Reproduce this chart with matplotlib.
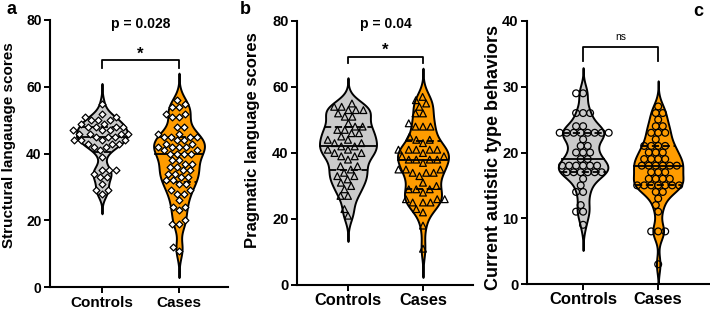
import numpy as np
import matplotlib
matplotlib.use("Agg")
import matplotlib.pyplot as plt

plt.rcParams['font.family'] = ['Liberation Sans', 'DejaVu Sans']

categories = ["Controls", "Cases"]

a_controls = [55, 52, 51, 51, 50, 50, 50, 49, 49, 48, 48, 48, 48, 47, 47, 47, 46, 46, 46, 46,
              45, 45, 45, 44, 44, 44, 44, 43, 43, 43, 42, 42, 41, 39, 35, 35, 35, 34, 33, 33,
              31, 29, 29, 28]
a_cases = [56, 55, 54, 54, 52, 52, 51, 51, 48, 48, 46, 46, 45, 45, 45, 45, 44, 44, 43, 43,
           42, 42, 42, 42, 41, 41, 40, 40, 40, 40, 38, 38, 37, 37, 36, 36, 35, 35, 34, 34,
           33, 33, 32, 32, 31, 31, 29, 29, 28, 28, 26, 24, 24, 23, 20, 19, 19, 12, 11]

b_controls = [55, 54, 54, 53, 53, 53, 52, 51, 51, 49, 48, 48, 47, 47, 46, 46, 45, 44, 44, 43,
              43, 42, 42, 41, 41, 40, 40, 39, 39, 38, 36, 36, 35, 34, 33, 33, 32, 31, 30, 29,
              27, 27, 23, 21]
b_cases = [57, 56, 55, 54, 52, 52, 49, 48, 48, 48, 45, 44, 44, 43, 41, 41, 41, 41, 41, 40,
           39, 39, 38, 38, 38, 38, 37, 35, 35, 35, 34, 34, 34, 33, 31, 30, 29, 29, 29, 28,
           26, 26, 26, 25, 25, 25, 23, 22, 18, 11]

c_controls = [29, 29, 26, 26, 26, 24, 24, 23, 23, 23, 23, 23, 23, 23, 23, 22, 21, 21, 20, 20,
              20, 19, 19, 18, 18, 18, 18, 18, 18, 17, 17, 17, 17, 17, 17, 16, 15, 14, 14, 12,
              11, 11, 9]
c_cases = [27, 26, 26, 25, 24, 24, 23, 23, 23, 22, 21, 21, 21, 21, 20, 20, 20, 19, 19, 19,
           19, 18, 18, 18, 18, 18, 18, 17, 17, 17, 16, 16, 16, 16, 15, 15, 15, 15, 15, 15,
           15, 14, 14, 13, 12, 11, 8, 8, 8, 3]

ylabels = ["Structural langauage scores", "Pragmatic language scores", "Current autistic type behaviors"]
sig_labels = ["*", "*", "ns"]
p_texts = ["p = 0.028", "p = 0.04", None]
panel_letters = ["a", "b", "c"]

GREY = "#cbcbcb"
ORANGE = "#ff9c00"

W, H = 710, 310
fig = plt.figure(figsize=(W / 100, H / 100), dpi=100)


def px_axes(l, r, bottom, top):
    return [l / W, (H - bottom) / H, (r - l) / W, (bottom - top) / H]


def swarm_offsets(vals, sx, sy, d):
    vals = np.asarray(vals, float)
    order = np.argsort(vals, kind="stable")
    placed = []
    offs = np.zeros(len(vals))
    for i in order:
        y = vals[i] * sy
        cands = [0.0]
        for (px, py) in placed:
            dy = abs(py - y)
            if dy < d:
                dx = np.sqrt(d * d - dy * dy)
                cands += [px + dx, px - dx]
        cands.sort(key=lambda c: (round(abs(c), 6), c))
        chosen = cands[-1]
        for c in cands:
            if all((c - px) ** 2 + (y - py) ** 2 >= d * d - 1e-6 for px, py in placed):
                chosen = c
                break
        placed.append((chosen, y))
        offs[i] = chosen / sx
    return offs


def violin(ax, x, vals, bw, half_w, color, marker, msize, mface, d):
    vals = np.asarray(vals, float)
    grid = np.linspace(vals.min() - 3 * bw, vals.max() + 3 * bw, 600)
    dens = np.exp(-0.5 * ((grid[:, None] - vals[None, :]) / bw) ** 2).sum(axis=1)
    half = dens / dens.max() * half_w
    ax.fill_betweenx(grid, x - half, x + half, facecolor=color, edgecolor="black",
                     lw=1.4, zorder=1)
    q1, med, q3 = np.percentile(vals, [25, 50, 75])
    for q, ls in [(q1, (0, (4, 2))), (med, "-"), (q3, (0, (4, 2)))]:
        w = np.interp(q, grid, half)
        ax.plot([x - w, x + w], [q, q], color="black", lw=1.3, ls=ls, zorder=2)
    p0 = ax.transData.transform((0, 0))
    p1 = ax.transData.transform((1, 1))
    sx, sy = p1[0] - p0[0], p1[1] - p0[1]
    offs = swarm_offsets(vals, sx, sy, d)
    ax.scatter(x + offs, vals, marker=marker, s=msize, facecolor=mface,
               edgecolor="black", linewidths=0.9, zorder=3)


panels = [
    dict(rect=px_axes(50, 228, 287.3, 20), xlim=(0.325, 2.636), ylim=(0, 80),
         yticks=[0, 20, 40, 60, 80], data=[a_controls, a_cases], bw=[2.0, 2.7],
         hw=[0.33, 0.33], marker="D", ms=12, mface="white", d=7.0,
         tick_fs=10, xt_fs=11, yl_fs=11, ylab_xy=(9, 145),
         bracket=(68, 65.5), sig_y=69.8, sig_fs=12, p_y=78.8, letter_xy=(12, 10)),
    dict(rect=px_axes(297, 473, 285, 21), xlim=(0.32, 2.667), ylim=(0, 80),
         yticks=[0, 20, 40, 60, 80], data=[b_controls, b_cases], bw=[2.6, 2.9],
         hw=[0.38, 0.34], marker="^", ms=24, mface="none", d=7.5,
         tick_fs=10.5, xt_fs=11.8, yl_fs=12, ylab_xy=(253, 140),
         bracket=(69, 67.3), sig_y=71.2, sig_fs=12, p_y=79, letter_xy=(245, 10)),
    dict(rect=px_axes(527, 710, 284, 21), xlim=(0.253, 2.69), ylim=(0, 40),
         yticks=[0, 10, 20, 30, 40], data=[c_controls, c_cases], bw=[1.3, 1.3],
         hw=[0.33, 0.33], marker="o", ms=24, mface="none", d=7.0,
         tick_fs=10.5, xt_fs=12, yl_fs=13, ylab_xy=(494, 157),
         bracket=(36.1, 33.9), sig_y=37.6, sig_fs=7.5, p_y=None, letter_xy=(698, 12)),
]

for i, P in enumerate(panels):
    ax = fig.add_axes(P["rect"])
    ax.set_xlim(*P["xlim"])
    ax.set_ylim(*P["ylim"])
    for s in ["top", "right"]:
        ax.spines[s].set_visible(False)
    for s in ["left", "bottom"]:
        ax.spines[s].set_linewidth(1.5)
    ax.set_yticks(P["yticks"])
    ax.set_xticks([1, 2])
    ax.set_xticklabels(categories, fontweight="bold", fontsize=P["xt_fs"])
    for lab in ax.get_yticklabels():
        lab.set_fontweight("bold")
        lab.set_fontsize(P["tick_fs"])
    ax.tick_params(axis="both", direction="out", length=4, width=1.4, pad=2)
    colors = [GREY, ORANGE]
    for j, vals in enumerate(P["data"]):
        violin(ax, j + 1, vals, P["bw"][j], P["hw"][j], colors[j], P["marker"],
               P["ms"], P["mface"], P["d"])
    top, leg = P["bracket"]
    ax.plot([1, 1, 2, 2], [leg, top, top, leg], color="black", lw=1.3, clip_on=False, zorder=4)
    if sig_labels[i] == "ns":
        ax.text(1.5, P["sig_y"], "ns", ha="center", va="center", fontsize=P["sig_fs"])
    else:
        ax.text(1.5, P["sig_y"], sig_labels[i], ha="center", va="center",
                fontsize=P["sig_fs"], fontweight="bold")
    if p_texts[i]:
        ax.text(1.5, P["p_y"], p_texts[i], ha="center", va="center", fontsize=10,
                fontweight="bold", clip_on=False)
    lx, ly = P["ylab_xy"]
    fig.text(lx / W, 1 - ly / H, ylabels[i], rotation=90, ha="center", va="center",
             fontsize=P["yl_fs"], fontweight="bold")
    tx, ty = P["letter_xy"]
    fig.text(tx / W, 1 - ty / H, panel_letters[i], ha="center", va="center",
             fontsize=13, fontweight="bold")

fig.savefig("out.png", dpi=100)
